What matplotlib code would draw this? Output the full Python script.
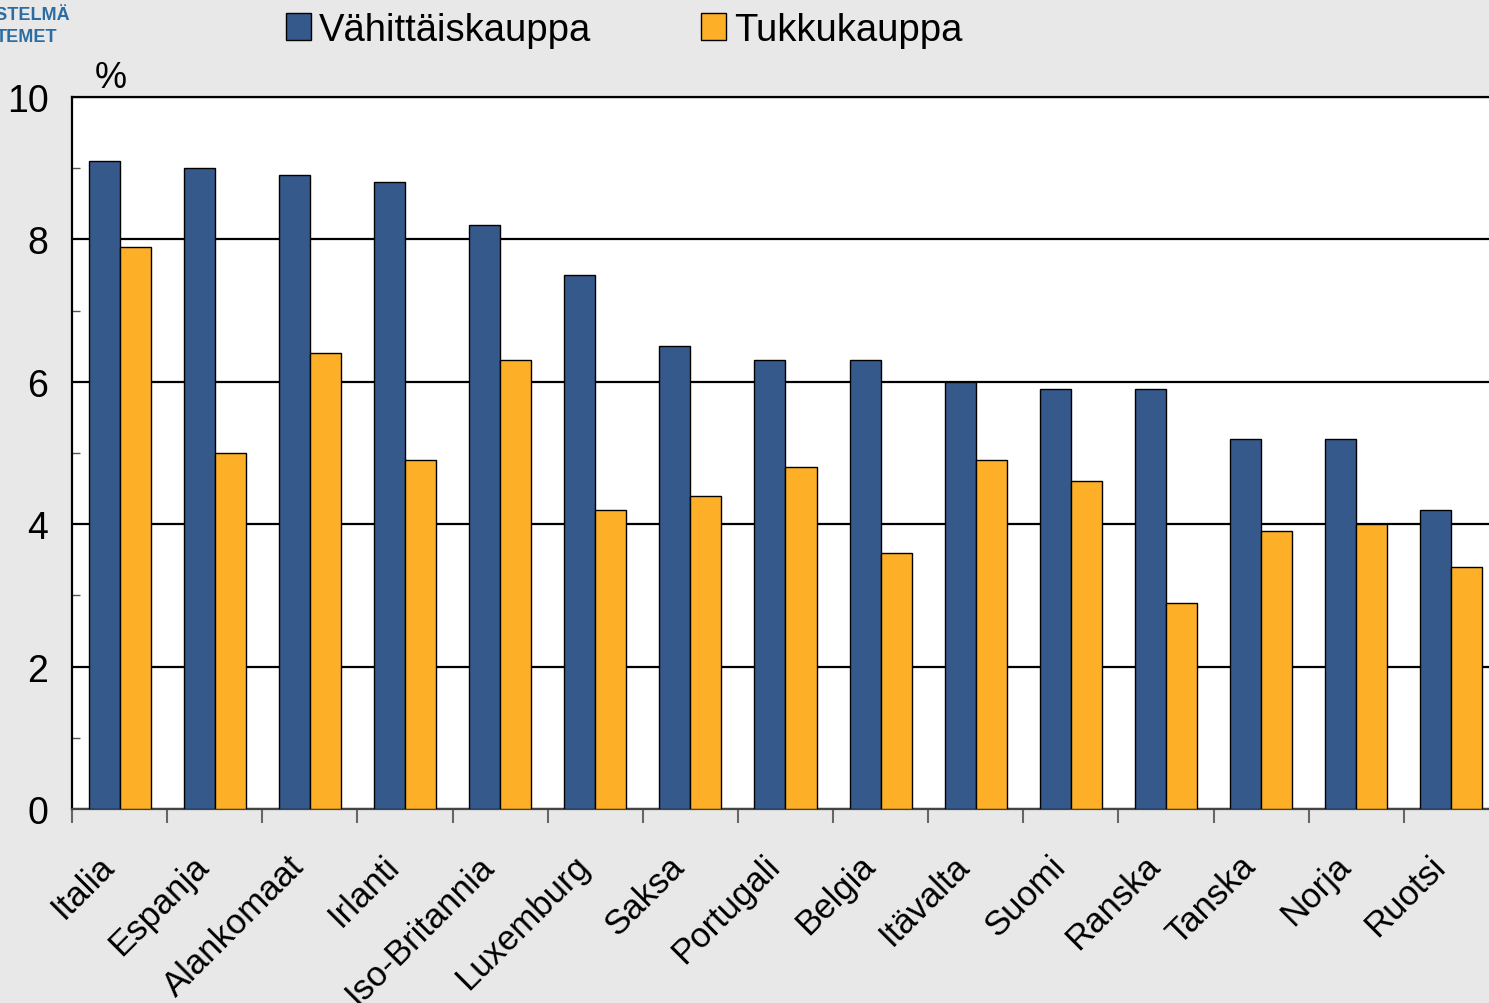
import matplotlib.pyplot as plt
import numpy as np
from matplotlib.transforms import ScaledTranslation

plt.rcParams['font.family'] = ['Liberation Sans', 'DejaVu Sans']

# Data
countries = ['Italia', 'Espanja', 'Alankomaat', 'Irlanti', 'Iso-Britannia', 'Luxemburg',
             'Saksa', 'Portugali', 'Belgia', 'Itävalta', 'Suomi', 'Ranska', 'Tanska',
             'Norja', 'Ruotsi']
vahittais = [9.1, 9.0, 8.9, 8.8, 8.2, 7.5, 6.5, 6.3, 6.3, 6.0, 5.9, 5.9, 5.2, 5.2, 4.2]
tukku = [7.9, 5.0, 6.4, 4.9, 6.3, 4.2, 4.4, 4.8, 3.6, 4.9, 4.6, 2.9, 3.9, 4.0, 3.4]

blue = '#36598C'
orange = '#FDB027'
bg = '#E8E8E8'

fig = plt.figure(figsize=(14.89, 10.04), dpi=100, facecolor=bg)
ax = fig.add_axes([72/1489, 194/1004, 1427/1489, 712/1004])
ax.set_facecolor('white')

x = np.arange(len(countries)) + 0.5
w = 0.326
b1 = ax.bar(x - w/2, vahittais, w, color=blue, edgecolor='black', linewidth=1, zorder=3,
            label='Vähittäiskauppa')
b2 = ax.bar(x + w/2, tukku, w, color=orange, edgecolor='black', linewidth=1, zorder=3,
            label='Tukkukauppa')

ax.set_xlim(0, len(countries))
ax.set_ylim(0, 10)

# horizontal grid
ax.set_yticks([0, 2, 4, 6, 8, 10])
ax.set_yticks(np.arange(1, 10, 2), minor=True)
ax.yaxis.grid(True, which='major', color='black', linewidth=1.6, zorder=1)
ax.tick_params(axis='y', which='major', labelsize=27, length=0, pad=17)
ax.tick_params(axis='y', which='minor', direction='in', length=6, width=1, color='#555555')

# category boundaries as major ticks, labels on minor ticks
ax.set_xticks(np.arange(0, len(countries)))
ax.set_xticklabels([])
ax.set_xticks(x, minor=True)
ax.set_xticklabels(countries, minor=True, rotation=45, ha='right', va='center',
                   rotation_mode='anchor', fontsize=25)
ax.tick_params(axis='x', which='major', direction='out', length=10, width=1.5, color='#666666')
ax.tick_params(axis='x', which='minor', length=0, pad=37)
for lab in ax.get_xticklabels(minor=True):
    lab.set_transform(lab.get_transform() + ScaledTranslation(-0.11, 0, fig.dpi_scale_trans))

for s in ['left', 'top']:
    ax.spines[s].set_color('black')
    ax.spines[s].set_linewidth(1.6)
ax.spines['bottom'].set_color('#444444')
ax.spines['bottom'].set_linewidth(1.6)
ax.spines['right'].set_visible(False)

fig.text(95/1489, 1 - 88/1004, '%', fontsize=26)

# logo fragment in corner
fig.text(70/1489, 1 - 20/1004, 'ESTELMÄ', fontsize=13, fontweight='bold', color='#2B6CA3',
         ha='right')
fig.text(57/1489, 1 - 42/1004, 'TEMET', fontsize=13, fontweight='bold', color='#2B6CA3',
         ha='right')

fig.legend(handles=[b1, b2], loc='upper left', bbox_to_anchor=(286/1489, 1 - 13/1004),
           ncol=2, frameon=False, fontsize=27.5, handlelength=0.65, handleheight=0.72,
           handletextpad=0.2, columnspacing=2.9, borderpad=0, borderaxespad=0)

fig.savefig('out.png', dpi=100, facecolor=bg)
